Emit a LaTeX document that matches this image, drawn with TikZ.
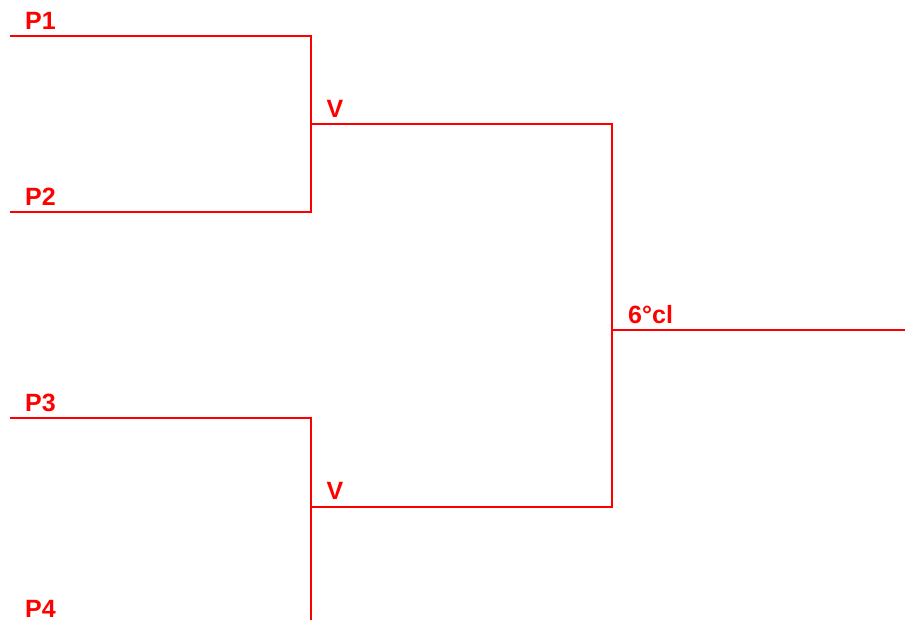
\documentclass[tikz,border=0pt]{standalone}
\usepackage{fontspec}
\setmainfont{Liberation Sans}
\begin{document}
\begin{tikzpicture}[x=1pt,y=-1pt,
  wire/.style={draw=red,line width=2pt},
  lbl/.style={anchor=base west,inner sep=0pt,text=red,font=\bfseries\fontsize{25}{29}\selectfont}]
\useasboundingbox (0,0) rectangle (905,620);
\clip (0,0) rectangle (905,620);
% coordinates
\coordinate (a1) at (10,36);
\coordinate (b1) at (311,36);
\coordinate (a2) at (10,212);
\coordinate (b2) at (311,212);
\coordinate (v1) at (311,124.5);
\coordinate (w1) at (612,124.5);
\coordinate (a3) at (10,418);
\coordinate (b3) at (311,418);
\coordinate (a4) at (10,624);
\coordinate (b4) at (311,624);
\coordinate (v2) at (311,506.5);
\coordinate (w2) at (612,506.5);
\coordinate (f) at (612,330.5);
\coordinate (g) at (910,330.5);
% wires
\draw[wire] (a1) -- (b1) -- (b2) -- (a2);
\draw[wire] (v1) -- (w1) -- (w2) -- (v2);
\draw[wire] (a3) -- (b3) -- (b4) -- (a4);
\draw[wire] (f) -- (g);
% labels
\node[lbl] (t1) at (25,29.5) {P1};
\node[lbl] (t2) at (25,205.5) {P2};
\node[lbl] (t3) at (25,411.5) {P3};
\node[lbl] (t4) at (25,617) {P4};
\node[lbl] (tv1) at (326.5,117.5) {V};
\node[lbl] (tv2) at (326.5,499.5) {V};
\node[lbl] (tf) at (628,323.5) {6°cl};
\end{tikzpicture}
\end{document}
